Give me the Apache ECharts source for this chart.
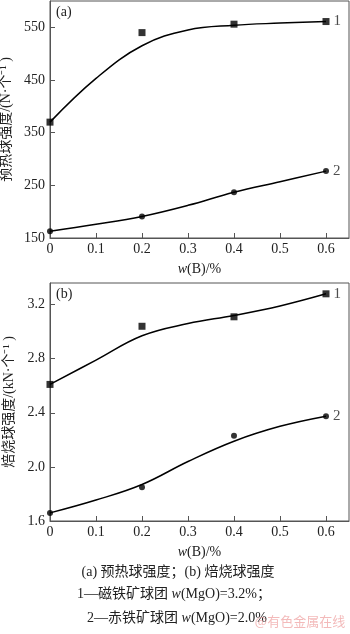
<!DOCTYPE html>
<html><head><meta charset="utf-8">
<script src="https://cdn.jsdelivr.net/npm/echarts@6/dist/echarts.min.js"></script>
<style>html,body{margin:0;padding:0;background:#fff}#c{width:350px;height:634px}</style>
</head><body><div id="c"></div>
<script>
const xPoints=[0,0.2,0.4,0.6];
const xCurve=[0,0.1,0.2,0.3,0.4,0.5,0.6];
const xTicks=[0,0.1,0.2,0.3,0.4,0.5,0.6];
const aTicks=[150,250,350,450,550];
const bTicks=[1.6,2.0,2.4,2.8,3.2];
const a1Pts=[370,540,556,561];
const a1Fit=[370,453,515,545,554,558,561];
const a2Pts=[163,191,237,277];
const a2Fit=[163,176,191,212,237,257,277];
const b1Pts=[2.61,3.04,3.11,3.28];
const b1Fit=[2.61,2.79,2.97,3.06,3.12,3.19,3.28];
const b2Pts=[1.66,1.85,2.23,2.375];
const b2Fit=[1.66,1.755,1.87,2.04,2.19,2.30,2.375];
const seriesNames=['1','2'];

const FONT='"Liberation Serif","Noto Sans CJK SC",serif';
const TXT='#222';
const chart=echarts.init(document.getElementById('c'),null,{renderer:'canvas'});
const pair=(xs,ys)=>xs.map((x,i)=>[x,ys[i]]);

function xAxis(gi){
  return {type:'value',gridIndex:gi,min:0,max:0.65,
    axisLine:{show:true,lineStyle:{color:'#555',width:1}},
    axisTick:{show:true,inside:true,length:5,customValues:xTicks,lineStyle:{color:'#555'}},
    axisLabel:{customValues:xTicks,color:TXT,fontFamily:FONT,fontSize:14,margin:4,
      formatter:v=>v===0?'0':v.toFixed(1)},
    splitLine:{show:false},
    name:'{i|w}(B)/%',nameLocation:'middle',nameGap:24,
    nameTextStyle:{color:TXT,fontFamily:FONT,fontSize:14,rich:{i:{fontStyle:'italic',fontFamily:FONT,fontSize:14,color:TXT}}}
  };
}
function yAxis(gi,min,max,ticks,dec,name){
  return {type:'value',gridIndex:gi,min:min,max:max,
    axisLine:{show:true,lineStyle:{color:'#555',width:1}},
    axisTick:{show:true,inside:true,length:5,customValues:ticks,lineStyle:{color:'#555'}},
    axisLabel:{customValues:ticks,color:TXT,fontFamily:FONT,fontSize:14,margin:5,
      formatter:v=>v.toFixed(dec)},
    splitLine:{show:false},
    name:name,nameLocation:'middle',nameGap:30,nameRotate:90,
    nameTextStyle:{color:TXT,fontFamily:FONT,fontSize:14}
  };
}
function lineS(gi,ys){
  return {type:'line',xAxisIndex:gi,yAxisIndex:gi,data:pair(xCurve,ys),smooth:0.4,
    showSymbol:false,symbol:'none',lineStyle:{color:'#000',width:1.5},silent:true,z:2};
}
function ptS(gi,ys,sym,size,lab){
  const d=pair(xPoints,ys).map((p,i)=>i===ys.length-1?{value:p,label:{show:true,formatter:lab,position:'right',distance:4,color:TXT,fontFamily:FONT,fontSize:15}}:{value:p});
  return {type:'scatter',xAxisIndex:gi,yAxisIndex:gi,data:d,symbol:sym,symbolSize:size,
    itemStyle:{color:'#000'},z:3};
}
const option={
  animation:false,
  backgroundColor:'#fff',
  grid:[
    {left:50,top:1,width:299,height:237,show:true,borderColor:'#555',borderWidth:1,backgroundColor:'transparent',outerBoundsMode:'none',containLabel:false},
    {left:50,top:283,width:299,height:238,show:true,borderColor:'#555',borderWidth:1,backgroundColor:'transparent',outerBoundsMode:'none',containLabel:false}
  ],
  xAxis:[xAxis(0),xAxis(1)],
  yAxis:[yAxis(0,150,600,aTicks,0,'预热球强度/(N·个⁻¹ )'),yAxis(1,1.6,3.36,bTicks,1,'焙烧球强度/(kN·个⁻¹ )')],
  series:[
    lineS(0,a1Fit),lineS(0,a2Fit),
    ptS(0,a1Pts,'rect',7,seriesNames[0]),ptS(0,a2Pts,'circle',6,seriesNames[1]),
    lineS(1,b1Fit),lineS(1,b2Fit),
    ptS(1,b1Pts,'rect',7,seriesNames[0]),ptS(1,b2Pts,'circle',6,seriesNames[1])
  ],
  graphic:[
    {type:'text',left:56,top:5,style:{text:'(a)',font:'14px '+FONT,fill:TXT}},
    {type:'text',left:56,top:287,style:{text:'(b)',font:'14px '+FONT,fill:TXT}},
    {type:'text',x:178,y:572,style:{text:'(a) 预热球强度；(b) 焙烧球强度',font:'14px '+FONT,fill:TXT,align:'center',verticalAlign:'middle'}},
    {type:'text',x:174,y:594,style:{text:'1—磁铁矿球团 {i|w}(MgO)=3.2%；',font:'14px '+FONT,fill:TXT,align:'center',verticalAlign:'middle',
      rich:{i:{fontStyle:'italic',fontFamily:FONT,fontSize:14,fill:TXT}}}},
    {type:'text',x:177,y:618,style:{text:'2—赤铁矿球团 {i|w}(MgO)=2.0%',font:'14px '+FONT,fill:TXT,align:'center',verticalAlign:'middle',
      rich:{i:{fontStyle:'italic',fontFamily:FONT,fontSize:14,fill:TXT}}}},
    {type:'text',x:300,y:621,style:{text:'@有色金属在线',font:'13px "Noto Sans CJK SC"',fill:'rgba(235,140,140,0.6)',align:'center',verticalAlign:'middle'}}
  ]
};
chart.setOption(option);
</script></body></html>
